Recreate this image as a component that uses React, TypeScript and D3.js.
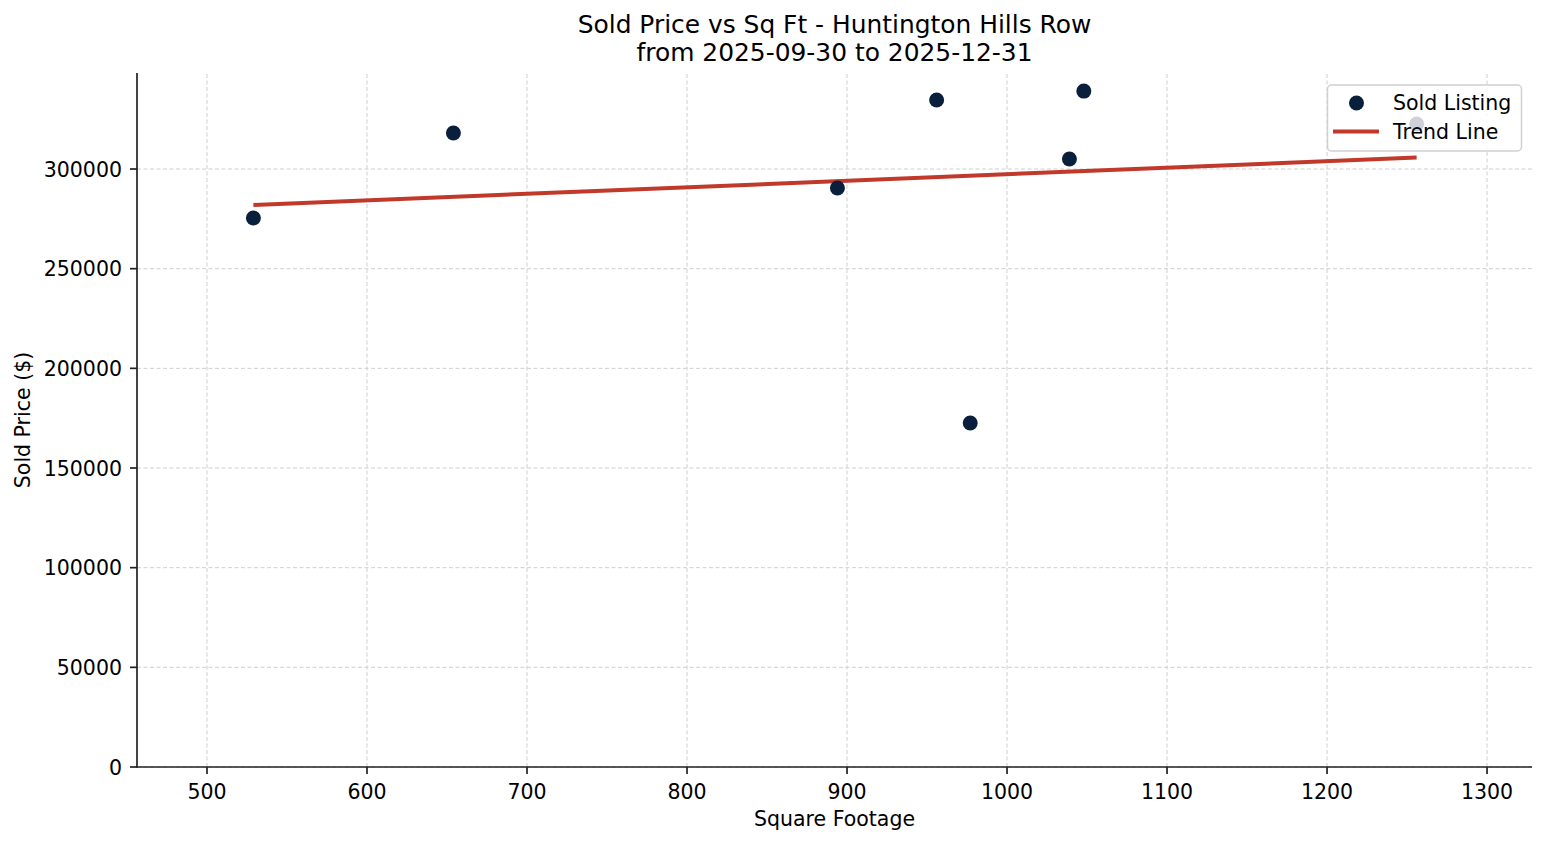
import React from 'react';
import * as d3 from 'd3';

// ------- Data -------
const sqft = [529, 654, 894, 956, 977, 1039, 1048, 1256];
const price = [275400, 318100, 290500, 334600, 172600, 305000, 339100, 322600];
const xTicks = [500, 600, 700, 800, 900, 1000, 1100, 1200, 1300];
const yTicks = [0, 50000, 100000, 150000, 200000, 250000, 300000];

const titleLines = ['Sold Price vs Sq Ft - Huntington Hills Row', 'from 2025-09-30 to 2025-12-31'];

const W = 1547;
const H = 845;
const margin = { top: 73, right: 15, bottom: 78, left: 137 };
const FONT = 'DejaVu Sans, sans-serif';
const NAVY = '#0a1f3c';
const RED = '#c0392b';

export default function App() {
  const pts = sqft.map((s, i) => ({ x: s, y: price[i] }));

  const x = d3
    .scaleLinear()
    .domain([456.25, 1328.1])
    .range([margin.left, W - margin.right]);
  const y = d3
    .scaleLinear()
    .domain([0, 348170])
    .range([H - margin.bottom, margin.top]);

  // least squares trend
  const mx = d3.mean(sqft)!;
  const my = d3.mean(price)!;
  const slope =
    d3.sum(pts, (p) => (p.x - mx) * (p.y - my)) / d3.sum(pts, (p) => (p.x - mx) ** 2);
  const xMin = d3.min(sqft)!;
  const xMax = d3.max(sqft)!;
  const trend = [xMin, xMax].map((v) => ({ x: v, y: my + slope * (v - mx) }));
  const line = d3
    .line<{ x: number; y: number }>()
    .x((d) => x(d.x))
    .y((d) => y(d.y));

  const x0 = margin.left;
  const x1 = W - margin.right;
  const y0 = H - margin.bottom;
  const y1 = margin.top;
  const cx = (x0 + x1) / 2;

  return (
    <svg
      width={W}
      height={H}
      style={{ position: 'absolute', left: 0, top: 0, background: '#fff' }}
      fontFamily={FONT}
    >
      <rect width={W} height={H} fill="#fff" />
      {/* grid */}
      <g stroke="#cfcfcf" strokeWidth={1} strokeDasharray="4,2.5">
        {xTicks.map((t) => (
          <line key={'gx' + t} x1={x(t)} x2={x(t)} y1={y0} y2={y1} />
        ))}
        {yTicks.map((t) => (
          <line key={'gy' + t} x1={x0} x2={x1} y1={y(t)} y2={y(t)} />
        ))}
      </g>

      {/* trend */}
      <path d={line(trend)!} fill="none" stroke={RED} strokeWidth={4} />

      {/* points */}
      {pts.map((p, i) => (
        <circle key={i} cx={x(p.x)} cy={y(p.y)} r={7.5} fill={NAVY} />
      ))}

      {/* axes */}
      <g stroke="#222" strokeWidth={1.7}>
        <line x1={x0} x2={x0} y1={y1} y2={y0 + 0.8} />
        <line x1={x0 - 0.8} x2={x1} y1={y0} y2={y0} />
        {xTicks.map((t) => (
          <line key={'tx' + t} x1={x(t)} x2={x(t)} y1={y0} y2={y0 + 7} />
        ))}
        {yTicks.map((t) => (
          <line key={'ty' + t} x1={x0} x2={x0 - 7} y1={y(t)} y2={y(t)} />
        ))}
      </g>
      <g fontSize={20.5} fill="#000">
        {xTicks.map((t) => (
          <text key={'lx' + t} x={x(t)} y={y0 + 32} textAnchor="middle">
            {t}
          </text>
        ))}
        {yTicks.map((t) => (
          <text key={'ly' + t} x={x0 - 15} y={y(t) + 7.5} textAnchor="end">
            {t}
          </text>
        ))}
        <text x={cx} y={826} textAnchor="middle">
          Square Footage
        </text>
        <text transform={`translate(30,${(y0 + y1) / 2}) rotate(-90)`} textAnchor="middle">
          Sold Price ($)
        </text>
      </g>

      {/* title */}
      <g fontSize={24.9} fill="#000" textAnchor="middle">
        <text x={cx} y={33.3}>
          {titleLines[0]}
        </text>
        <text x={cx} y={60.5}>
          {titleLines[1]}
        </text>
      </g>

      {/* legend */}
      <g>
        <rect
          x={1327.5}
          y={85}
          width={194}
          height={66}
          rx={4}
          fill="#fff"
          fillOpacity={0.8}
          stroke="#d0d0d0"
          strokeWidth={1.5}
        />
        <circle cx={1356.5} cy={103} r={7.5} fill={NAVY} />
        <line x1={1333} x2={1379} y1={131.5} y2={131.5} stroke={RED} strokeWidth={4} />
        <text x={1393} y={110} fontSize={20.5}>
          Sold Listing
        </text>
        <text x={1393} y={139} fontSize={20.5}>
          Trend Line
        </text>
      </g>
    </svg>
  );
}
